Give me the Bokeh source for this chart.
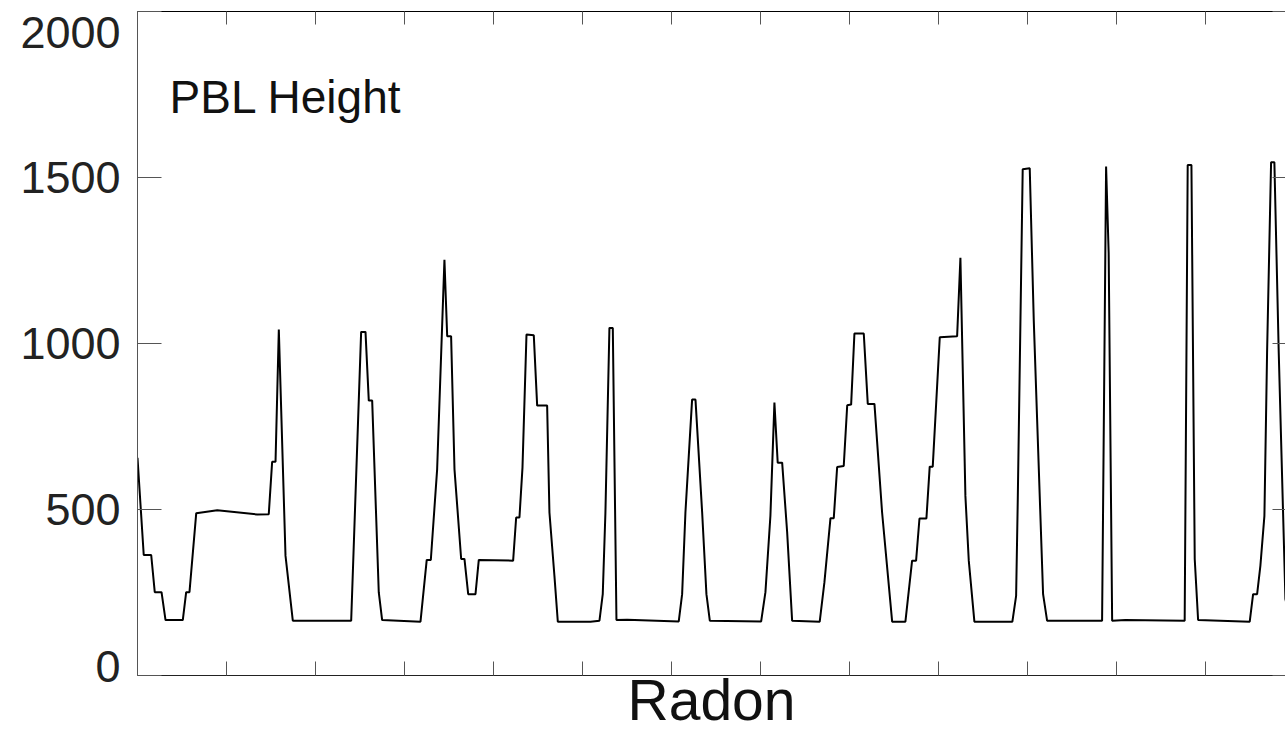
from bokeh.plotting import figure
from bokeh.models import Range1d, FixedTicker, LinearAxis, Label, CustomLabelingPolicy
from bokeh.embed import file_html
from bokeh.resources import INLINE

# x in axis-tick units (13 tick intervals across the frame), y = PBL height (m)
pbl_x = [0.000, 0.070, 0.154, 0.194, 0.270, 0.315, 0.509, 0.547, 0.584, 0.660,
         0.896, 1.345, 1.475, 1.513, 1.551, 1.588, 1.663, 1.745, 2.401, 2.513,
         2.562, 2.599, 2.637, 2.711, 2.749, 3.180, 3.250, 3.296, 3.367, 3.449,
         3.480, 3.524, 3.562, 3.637, 3.674, 3.716, 3.798, 3.835, 4.221, 4.255,
         4.292, 4.326, 4.371, 4.453, 4.491, 4.603, 4.629, 4.685, 4.723, 5.090,
         5.191, 5.228, 5.258, 5.303, 5.341, 5.382, 5.502, 6.082, 6.120, 6.157,
         6.232, 6.270, 6.345, 6.393, 6.431, 7.008, 7.056, 7.112, 7.157, 7.194,
         7.244, 7.300, 7.356, 7.666, 7.719, 7.787, 7.824, 7.862, 7.936, 7.975,
         8.019, 8.056, 8.161, 8.206, 8.281, 8.367, 8.480, 8.629, 8.704, 8.749,
         8.787, 8.865, 8.902, 8.936, 9.015, 9.210, 9.247, 9.303, 9.341, 9.404,
         9.831, 9.873, 9.891, 9.947, 10.026, 10.071, 10.109, 10.176, 10.221, 10.839,
         10.884, 10.913, 10.952, 11.101, 11.767, 11.801, 11.843, 11.880, 11.918, 12.498,
         12.536, 12.581, 12.618, 12.663, 12.693, 12.738, 12.775, 12.824, 12.899, 12.955]
pbl_y = [656, 363, 363, 251, 251, 167, 167, 251, 251, 489,
         498, 485, 486, 644, 644, 1042, 361, 165, 165, 1035,
         1035, 828, 828, 251, 167, 162, 348, 348, 621, 1252,
         1022, 1022, 621, 351, 351, 245, 245, 348, 346, 476,
         476, 626, 1027, 1025, 813, 813, 491, 300, 162, 162,
         165, 245, 491, 1047, 1047, 167, 168, 163, 245, 491,
         831, 831, 491, 245, 165, 163, 251, 481, 822, 641,
         641, 432, 165, 162, 281, 474, 474, 628, 631, 814,
         816, 1030, 1030, 818, 818, 491, 162, 162, 346, 346,
         473, 473, 629, 629, 1019, 1022, 1258, 541, 346, 162,
         162, 240, 521, 1525, 1528, 1072, 771, 245, 165, 165,
         1533, 1272, 165, 167, 165, 1538, 1538, 351, 167, 162,
         245, 245, 331, 481, 973, 1546, 1546, 973, 230, 165]

y_ticks = [0, 500, 1000, 1500, 2000]
y_tick_labels = {0: "0\n \n \n ", 500: "500", 1000: "1000", 1500: "1500", 2000: "\n2000"}
x_ticks = list(range(0, 14))
panel_label = "PBL Height"
x_title = "Radon"

FONT = "Liberation Sans"

p = figure(width=1285, height=734, output_backend="svg", toolbar_location=None,
           x_range=Range1d(0, 12.9), y_range=Range1d(0, 2000),
           x_axis_location=None, y_axis_location=None,
           min_border_left=137, min_border_right=0, min_border_top=11,
           min_border_bottom=56)
p.outline_line_color = None
p.xgrid.visible = False
p.ygrid.visible = False
p.background_fill_color = "white"
p.border_fill_color = "white"

def hide_labels():
    return CustomLabelingPolicy(code="""
try { for (const i of Array.from(indices)) { indices.unset(i) } } catch (e) {}
return indices
""")

def style_axis(ax, tick_in, labels):
    ax.major_tick_in = tick_in
    ax.major_tick_out = 0
    ax.minor_tick_in = 0
    ax.minor_tick_out = 0
    ax.axis_line_color = "#222222"
    ax.axis_line_width = 1
    ax.major_tick_line_color = "#555555"
    ax.major_tick_line_width = 1
    if labels:
        ax.major_label_text_font = FONT
        ax.major_label_text_font_size = "45px"
        ax.major_label_text_color = "#222222"
        ax.major_label_standoff = 17
    else:
        ax.major_label_text_font_size = "0px"
        ax.major_label_standoff = 0
        ax.major_label_policy = hide_labels()

left = LinearAxis(ticker=FixedTicker(ticks=y_ticks))
style_axis(left, 24, True)
left.axis_line_color = "#555555"
left.major_label_overrides = {k: v for k, v in y_tick_labels.items()}
left.major_label_text_line_height = 0.12
p.add_layout(left, "left")

right = LinearAxis(ticker=FixedTicker(ticks=y_ticks))
style_axis(right, 13, False)
right.axis_line_color = None
p.add_layout(right, "right")

top = LinearAxis(ticker=FixedTicker(ticks=x_ticks))
style_axis(top, 13, False)
top.axis_line_color = "black"
p.add_layout(top, "above")

bottom = LinearAxis(ticker=FixedTicker(ticks=x_ticks), axis_label=x_title)
style_axis(bottom, 14, False)
bottom.axis_label_text_font = FONT
bottom.axis_label_text_font_size = "57px"
bottom.axis_label_text_font_style = "normal"
bottom.axis_label_text_color = "#111111"
bottom.axis_label_standoff = -8
p.add_layout(bottom, "below")

p.line(pbl_x, pbl_y, line_color="black", line_width=2)

p.add_layout(Label(x=0.36, y=1743, text=panel_label, text_font=FONT,
                   text_font_size="46px", text_color="#111111",
                   text_baseline="alphabetic", text_align="left"))

open("out.html", "w").write(file_html(p, INLINE))
